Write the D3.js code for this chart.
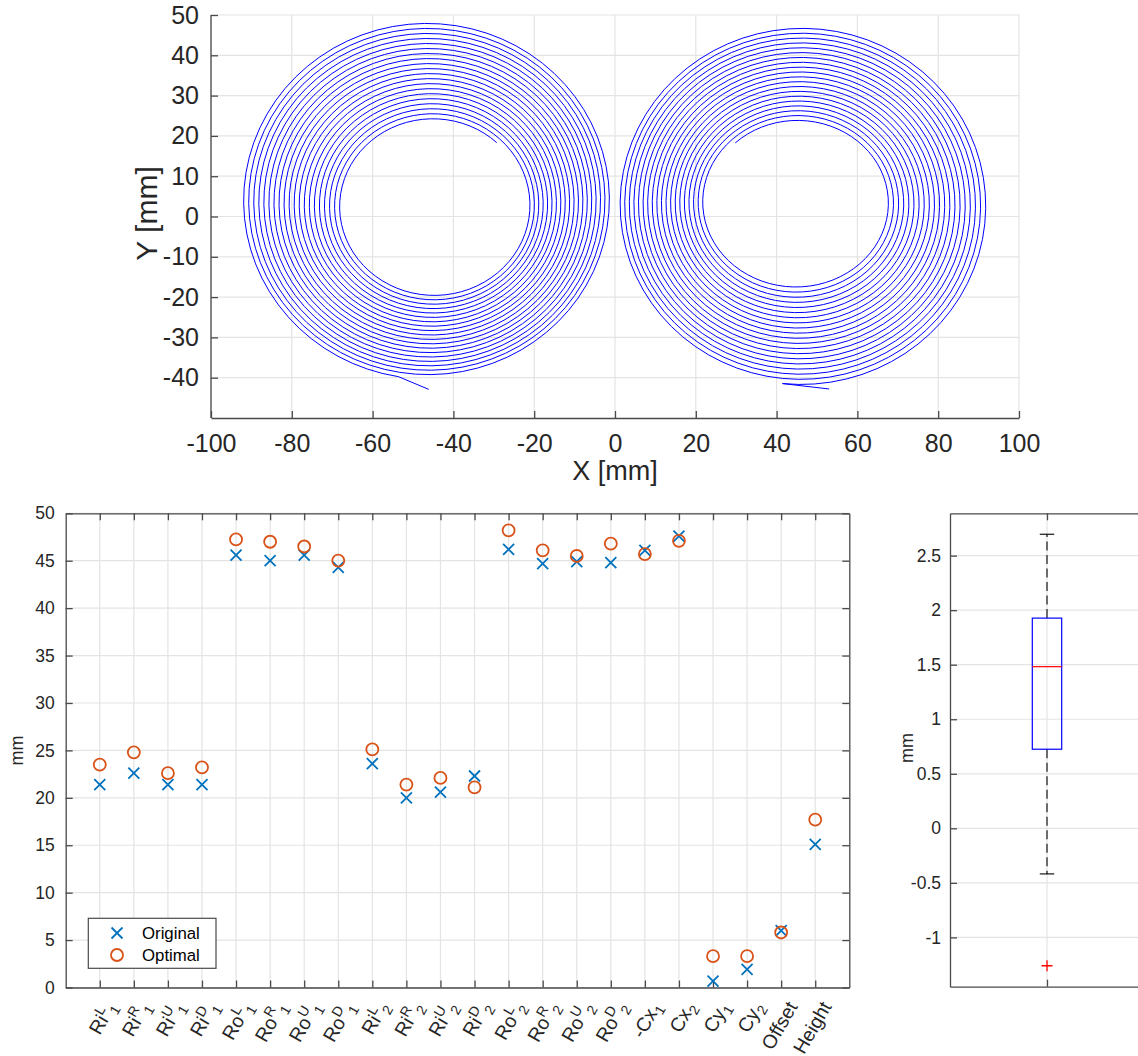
<!DOCTYPE html>
<html>
<head>
<meta charset="utf-8">
<script src="https://cdn.jsdelivr.net/npm/d3@7"></script>
<style>
  body { margin: 0; background: #fff; }
  svg { font-family: "Liberation Sans", Arial, sans-serif; }
</style>
</head>
<body>
<div id="chart"></div>
<script>
// Spiral layout (top), original vs optimal parameters (bottom left), error boxplot (bottom right)

const W = 1138, H = 1056;

// --- spiral parameters (mm): inner -> outer turn
const spiralCx0 = [-44.85, 44.95], spiralCx1 = [-46.4, 46.25];
const spiralCy0 = [2.6, 3.5],      spiralCy1 = [4.1, 2.8];
const spiralRx0 = [22.85, 22.25],  spiralRx1 = [45.8, 45.85];
const spiralRy0 = [21.5, 20.2],    spiralRy1 = [44.4, 44.5];
const spiralStartDeg = [47, 133];
const spiralSweepDeg = [7054, -7069];
const spiralEndX = [-46.1, 53.0];
const spiralEndY = [-42.9, -42.8];

const topXTicks = [-100, -80, -60, -40, -20, 0, 20, 40, 60, 80, 100];
const topYTicks = [-40, -30, -20, -10, 0, 10, 20, 30, 40, 50];

// --- parameter comparison
const catBase = ["Ri", "Ri", "Ri", "Ri", "Ro", "Ro", "Ro", "Ro", "Ri", "Ri", "Ri", "Ri",
                 "Ro", "Ro", "Ro", "Ro", "-Cx", "Cx", "Cy", "Cy", "Offset", "Height"];
const catSup  = ["L", "R", "U", "D", "L", "R", "U", "D", "L", "R", "U", "D",
                 "L", "R", "U", "D", "", "", "", "", "", ""];
const catSub  = ["1", "1", "1", "1", "1", "1", "1", "1", "2", "2", "2", "2",
                 "2", "2", "2", "2", "1", "2", "1", "2", "", ""];
const original = [21.4, 22.6, 21.4, 21.4, 45.6, 45.0, 45.6, 44.3, 23.6, 20.0, 20.6, 22.3,
                  46.2, 44.7, 44.9, 44.8, 46.1, 47.6, 0.67, 1.9, 6.0, 15.1];
const optimal  = [23.5, 24.8, 22.6, 23.2, 47.25, 47.0, 46.5, 45.0, 25.1, 21.4, 22.1, 21.1,
                  48.2, 46.1, 45.5, 46.8, 45.7, 47.1, 3.3, 3.3, 5.8, 17.7];
const midYTicks = [0, 5, 10, 15, 20, 25, 30, 35, 40, 45, 50];

// --- boxplot summary (mm)
const boxStats = { lowWhisker: -0.418, q1: 0.725, median: 1.482, q3: 1.927, highWhisker: 2.696 };
const boxOutliers = [-1.26];
const boxYTicks = [-1, -0.5, 0, 0.5, 1, 1.5, 2, 2.5];

const textCol = "#262626", axisCol = "#4a4a4a", gridCol = "#e4e4e4";
const blue = "#0072BD", orange = "#D95319";
const plain = d => String(d);   // keep ASCII hyphen for negatives

const svg = d3.select("#chart").append("svg")
  .attr("width", W).attr("height", H);

// ================= top: spirals =================
const t = { left: 211, right: 1019, top: 15, bottom: 418 };
const tx = d3.scaleLinear().domain([-100, 100]).range([t.left, t.right]);
const ty = d3.scaleLinear().domain([-50, 50]).range([t.bottom, t.top]);

const gTop = svg.append("g");
gTop.append("g").selectAll("line").data(topXTicks).join("line")
  .attr("x1", d => tx(d)).attr("x2", d => tx(d))
  .attr("y1", t.top).attr("y2", t.bottom)
  .attr("stroke", gridCol).attr("stroke-width", 1.2);
gTop.append("g").selectAll("line").data(topYTicks).join("line")
  .attr("x1", t.left).attr("x2", t.right)
  .attr("y1", d => ty(d)).attr("y2", d => ty(d))
  .attr("stroke", gridCol).attr("stroke-width", 1.2);

const spiralLine = d3.line().x(d => tx(d[0])).y(d => ty(d[1]));
const lerp = (a, b, f) => a + f * (b - a);
spiralCx0.forEach((_, i) => {
  const pts = [];
  const steps = Math.round(Math.abs(spiralSweepDeg[i]) / 5);
  for (let k = 0; k <= steps; k++) {
    const f = k / steps;
    const a = (spiralStartDeg[i] + f * spiralSweepDeg[i]) * Math.PI / 180;
    pts.push([
      lerp(spiralCx0[i], spiralCx1[i], f) + lerp(spiralRx0[i], spiralRx1[i], f) * Math.cos(a),
      lerp(spiralCy0[i], spiralCy1[i], f) + lerp(spiralRy0[i], spiralRy1[i], f) * Math.sin(a)
    ]);
  }
  pts.push([spiralEndX[i], spiralEndY[i]]);
  gTop.append("path").datum(pts)
    .attr("d", spiralLine)
    .attr("fill", "none").attr("stroke", "#0000ff").attr("stroke-width", 1);
});

const xAxisTop = d3.axisBottom(tx).tickValues(topXTicks).tickFormat(plain)
  .tickSizeInner(-7).tickSizeOuter(0).tickPadding(16);
const gx = gTop.append("g").attr("transform", `translate(0,${t.bottom})`).call(xAxisTop);
const yAxisTop = d3.axisLeft(ty).tickValues(topYTicks).tickFormat(plain)
  .tickSizeInner(-7).tickSizeOuter(0).tickPadding(12);
const gy = gTop.append("g").attr("transform", `translate(${t.left},0)`).call(yAxisTop);
// axis line runs over the full range
gy.select(".domain").attr("d", `M0,${t.bottom}V${t.top}`);
[gx, gy].forEach(g => {
  g.select(".domain").attr("stroke", axisCol).attr("stroke-width", 1.3);
  g.selectAll(".tick line").attr("stroke", axisCol).attr("stroke-width", 1.3);
  g.selectAll(".tick text").attr("fill", textCol).attr("font-size", 25)
    .attr("font-family", "Liberation Sans, Arial, sans-serif");
});
gTop.append("text").attr("x", 615).attr("y", 480).attr("text-anchor", "middle")
  .attr("font-size", 27).attr("fill", textCol).text("X [mm]");
gTop.append("text").attr("transform", `translate(157,${ty(0) - 3}) rotate(-90)`)
  .attr("text-anchor", "middle").attr("font-size", 30).attr("fill", textCol).text("Y [mm]");

// ================= bottom left: parameters =================
const m = { left: 65.7, right: 849.3, top: 513.3, bottom: 987.5 };
const mx = d3.scaleLinear().domain([0, catBase.length + 1]).range([m.left, m.right]);
const my = d3.scaleLinear().domain([0, 50]).range([m.bottom, m.top]);
const idx = d3.range(1, catBase.length + 1);

const gMid = svg.append("g");
gMid.append("g").selectAll("line").data(idx).join("line")
  .attr("x1", d => mx(d)).attr("x2", d => mx(d)).attr("y1", m.top).attr("y2", m.bottom)
  .attr("stroke", gridCol).attr("stroke-width", 1.2);
gMid.append("g").selectAll("line").data(midYTicks).join("line")
  .attr("x1", m.left).attr("x2", m.right).attr("y1", d => my(d)).attr("y2", d => my(d))
  .attr("stroke", gridCol).attr("stroke-width", 1.2);

// axes box with inward ticks on all four sides
const styleAxis = g => {
  g.select(".domain").attr("stroke", axisCol).attr("stroke-width", 1.3);
  g.selectAll(".tick line").attr("stroke", axisCol).attr("stroke-width", 1.3);
  g.selectAll(".tick text").attr("fill", textCol).attr("font-size", 17.5)
    .attr("font-family", "Liberation Sans, Arial, sans-serif");
};
gMid.append("g").attr("transform", `translate(0,${m.top})`)
  .call(d3.axisTop(mx).tickValues(idx).tickSizeInner(-7).tickSizeOuter(0).tickFormat(""))
  .call(styleAxis);
gMid.append("g").attr("transform", `translate(${m.right},0)`)
  .call(d3.axisRight(my).tickValues(midYTicks).tickSizeInner(-7).tickSizeOuter(0).tickFormat(""))
  .call(styleAxis);
gMid.append("g").attr("transform", `translate(${m.left},0)`)
  .call(d3.axisLeft(my).tickValues(midYTicks).tickSizeInner(-7).tickSizeOuter(0).tickPadding(11))
  .call(styleAxis);
gMid.append("g").attr("transform", `translate(0,${m.bottom})`)
  .call(d3.axisBottom(mx).tickValues(idx).tickSizeInner(-7).tickSizeOuter(0).tickFormat(""))
  .call(styleAxis);

// rotated category labels with TeX-like super/subscripts
const lab = gMid.append("g").selectAll("text").data(idx).join("text")
  .attr("transform", d => `translate(${mx(d) + 17},${m.bottom + 19}) rotate(-60)`)
  .attr("text-anchor", "end").attr("font-size", 19.5).attr("fill", textCol);
lab.each(function (d) {
  const i = d - 1, el = d3.select(this);
  el.append("tspan").text(catBase[i]);
  let shift = 0;
  if (catSup[i]) {
    el.append("tspan").attr("font-size", 14).attr("dy", -8).text(catSup[i]);
    shift = -8;
  }
  if (catSub[i]) {
    el.append("tspan").attr("font-size", 14).attr("dy", 5 - shift).text(catSub[i]);
  }
});

gMid.append("text").attr("transform", `translate(23,${(m.top + m.bottom) / 2}) rotate(-90)`)
  .attr("text-anchor", "middle").attr("font-size", 18).attr("fill", textCol).text("mm");

const xMark = (g, cx, cy, s, col) => {
  g.append("path").attr("d", `M${cx - s},${cy - s}L${cx + s},${cy + s}M${cx - s},${cy + s}L${cx + s},${cy - s}`)
    .attr("stroke", col).attr("stroke-width", 1.8).attr("fill", "none");
};
const gPts = gMid.append("g");
idx.forEach((d, i) => xMark(gPts, mx(d), my(original[i]), 5.5, blue));
gPts.selectAll("circle").data(idx).join("circle")
  .attr("cx", d => mx(d)).attr("cy", (d, i) => my(optimal[i])).attr("r", 6)
  .attr("fill", "none").attr("stroke", orange).attr("stroke-width", 1.8);

// legend
const lg = gMid.append("g");
lg.append("rect").attr("x", 88.3).attr("y", 918.3).attr("width", 127.7).attr("height", 50)
  .attr("fill", "#fff").attr("stroke", axisCol).attr("stroke-width", 1.2);
xMark(lg, 117, 933, 5.5, blue);
lg.append("circle").attr("cx", 117).attr("cy", 955).attr("r", 6)
  .attr("fill", "none").attr("stroke", orange).attr("stroke-width", 1.8);
lg.append("text").attr("x", 142).attr("y", 939).attr("font-size", 16.8).attr("fill", "#000").text("Original");
lg.append("text").attr("x", 142).attr("y", 961).attr("font-size", 16.8).attr("fill", "#000").text("Optimal");

// ================= bottom right: boxplot =================
const b = { left: 950, right: 1144, top: 513.3, bottom: 986.7 };
const bx = d3.scaleLinear().domain([0.5, 1.5]).range([b.left, b.right]);
const by = d3.scaleLinear().domain([-1.452, 2.888]).range([b.bottom, b.top]);

const gBox = svg.append("g");
gBox.append("line").attr("x1", bx(1)).attr("x2", bx(1)).attr("y1", b.top).attr("y2", b.bottom)
  .attr("stroke", gridCol).attr("stroke-width", 1.2);
gBox.append("g").selectAll("line").data(boxYTicks).join("line")
  .attr("x1", b.left).attr("x2", b.right).attr("y1", d => by(d)).attr("y2", d => by(d))
  .attr("stroke", gridCol).attr("stroke-width", 1.2);

gBox.append("g").attr("transform", `translate(0,${b.top})`)
  .call(d3.axisTop(bx).tickValues([1]).tickSizeInner(-7).tickSizeOuter(0).tickFormat(""))
  .call(styleAxis);
gBox.append("g").attr("transform", `translate(0,${b.bottom})`)
  .call(d3.axisBottom(bx).tickValues([1]).tickSizeInner(-7).tickSizeOuter(0).tickFormat(""))
  .call(styleAxis);
gBox.append("g").attr("transform", `translate(${b.left},0)`)
  .call(d3.axisLeft(by).tickValues(boxYTicks).tickSizeInner(-7).tickSizeOuter(0).tickPadding(9)
    .tickFormat(plain))
  .call(styleAxis);
gBox.append("text").attr("transform", `translate(913,${(b.top + b.bottom) / 2 - 2}) rotate(-90)`)
  .attr("text-anchor", "middle").attr("font-size", 18).attr("fill", textCol).text("mm");

const bw = 14.7, cw = 7.2, c = bx(1);
gBox.append("line").attr("x1", c).attr("x2", c)
  .attr("y1", by(boxStats.q3)).attr("y2", by(boxStats.highWhisker))
  .attr("stroke", "#000").attr("stroke-width", 1.1).attr("stroke-dasharray", "9,4.5");
gBox.append("line").attr("x1", c).attr("x2", c)
  .attr("y1", by(boxStats.q1)).attr("y2", by(boxStats.lowWhisker))
  .attr("stroke", "#000").attr("stroke-width", 1.1).attr("stroke-dasharray", "9,4.5");
[boxStats.highWhisker, boxStats.lowWhisker].forEach(v => {
  gBox.append("line").attr("x1", c - cw).attr("x2", c + cw).attr("y1", by(v)).attr("y2", by(v))
    .attr("stroke", "#000").attr("stroke-width", 1.1);
});
gBox.append("rect").attr("x", c - bw).attr("width", 2 * bw)
  .attr("y", by(boxStats.q3)).attr("height", by(boxStats.q1) - by(boxStats.q3))
  .attr("fill", "none").attr("stroke", "#0000ff").attr("stroke-width", 1.2);
gBox.append("line").attr("x1", c - bw).attr("x2", c + bw)
  .attr("y1", by(boxStats.median)).attr("y2", by(boxStats.median))
  .attr("stroke", "#ff0000").attr("stroke-width", 1.2);
boxOutliers.forEach(v => {
  const y = by(v);
  gBox.append("path").attr("d", `M${c - 5.5},${y}H${c + 5.5}M${c},${y - 5.5}V${y + 5.5}`)
    .attr("stroke", "#ff0000").attr("stroke-width", 1.3);
});
</script>
</body>
</html>
